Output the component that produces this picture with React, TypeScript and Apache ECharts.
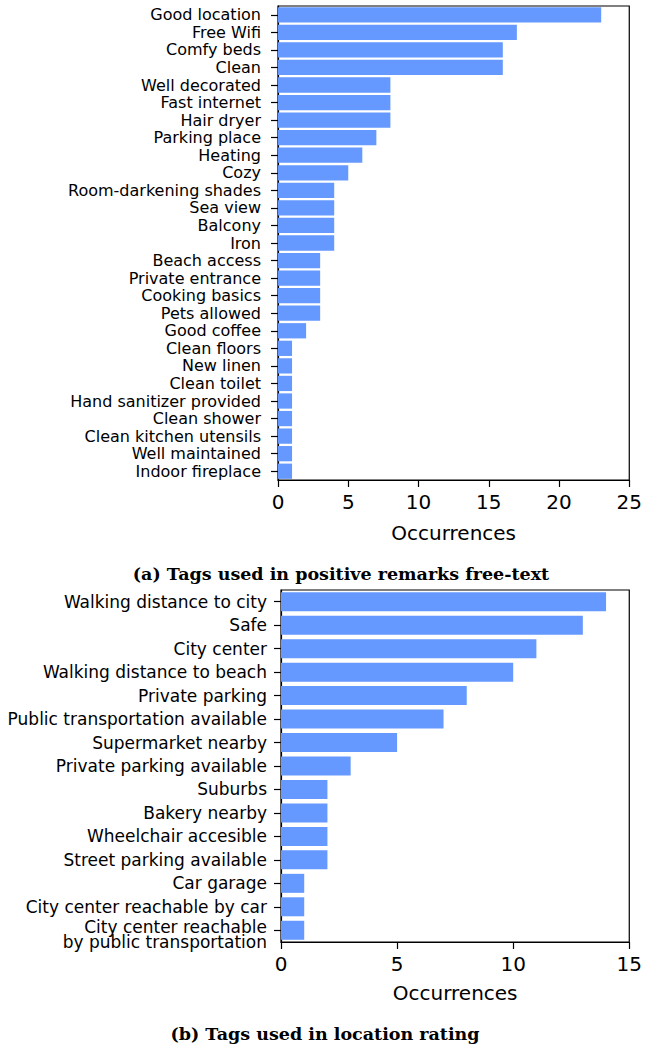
import React, { useEffect, useRef } from "react";
import * as echarts from "echarts";

const tagsA = [
  "Good location", "Free Wifi", "Comfy beds", "Clean", "Well decorated", "Fast internet",
  "Hair dryer", "Parking place", "Heating", "Cozy", "Room-darkening shades", "Sea view",
  "Balcony", "Iron", "Beach access", "Private entrance", "Cooking basics", "Pets allowed",
  "Good coffee", "Clean floors", "New linen", "Clean toilet", "Hand sanitizer provided",
  "Clean shower", "Clean kitchen utensils", "Well maintained", "Indoor fireplace",
];
const valuesA = [23, 17, 16, 16, 8, 8, 8, 7, 6, 5, 4, 4, 4, 4, 3, 3, 3, 3, 2, 1, 1, 1, 1, 1, 1, 1, 1];
const ticksA = [0, 5, 10, 15, 20, 25];

const tagsB = [
  "Walking distance to city", "Safe", "City center", "Walking distance to beach",
  "Private parking", "Public transportation available", "Supermarket nearby",
  "Private parking available", "Suburbs", "Bakery nearby", "Wheelchair accesible",
  "Street parking available", "Car garage", "City center reachable by car",
  "City center reachable\nby public transportation",
];
const valuesB = [14, 13, 11, 10, 8, 7, 5, 3, 2, 2, 2, 2, 1, 1, 1];
const ticksB = [0, 5, 10, 15];

const captionA = "(a) Tags used in positive remarks free-text";
const captionB = "(b) Tags used in location rating";
const xName = "Occurrences";

const FONT = "DejaVu Sans";

export default function App() {
  const ref = useRef<HTMLDivElement>(null);
  useEffect(() => {
    document.body.style.margin = "0";
    const chart = echarts.init(ref.current!, null, { renderer: "svg" });
    const xAxisBase = (max: number, margin: number, nameGap: number) => ({
      type: "value",
      min: 0,
      max,
      interval: 5,
      name: xName,
      nameLocation: "middle",
      nameGap,
      nameTextStyle: { fontFamily: FONT, fontSize: 20, color: "#000" },
      axisLine: { show: true, lineStyle: { color: "#000", width: 1.2 } },
      axisTick: { show: true, length: 7, lineStyle: { color: "#000", width: 1.2 } },
      axisLabel: { fontFamily: FONT, fontSize: 20, color: "#000", margin },
      splitLine: { show: false },
    });
    const yAxisBase = (data: string[], margin: number, size: number) => ({
      type: "category",
      data,
      inverse: true,
      axisLine: { show: true, lineStyle: { color: "#000", width: 1.2 } },
      axisTick: { show: true, length: 7, alignWithLabel: true, lineStyle: { color: "#000", width: 1.2 } },
      axisLabel: {
        fontFamily: FONT, fontSize: size, color: "#000", margin, interval: 0,
        formatter: (v: string) => {
          if (!v.includes("\n")) return v;
          const [a, b] = v.split("\n");
          return `{t|${a}}\n{u|${b}}`;
        },
        rich: {
          t: { fontFamily: FONT, fontSize: size, color: "#000", lineHeight: 23 },
          u: { fontFamily: FONT, fontSize: size, color: "#000", lineHeight: 7 },
        },
      },
    });
    chart.setOption({
      animation: false,
      grid: [
        { left: 278, top: 6, width: 354, height: 474, show: true, borderColor: "#000", borderWidth: 1.2 },
        { left: 281, top: 590, width: 353, height: 352, show: true, borderColor: "#000", borderWidth: 1.2 },
      ],
      xAxis: [
        { ...xAxisBase(ticksA[ticksA.length - 1], 12, 43), gridIndex: 0 },
        { ...xAxisBase(ticksB[ticksB.length - 1], 12, 41), gridIndex: 1 },
      ],
      yAxis: [
        { ...yAxisBase(tagsA, 17, 16), gridIndex: 0 },
        { ...yAxisBase(tagsB, 14, 17), gridIndex: 1 },
      ],
      series: [
        {
          type: "bar", xAxisIndex: 0, yAxisIndex: 0, data: valuesA,
          barCategoryGap: "13%", itemStyle: { color: "#6699ff" },
        },
        {
          type: "bar", xAxisIndex: 1, yAxisIndex: 1, data: valuesB,
          barCategoryGap: "19%", itemStyle: { color: "#6699ff" },
        },
      ],
      graphic: [
        {
          type: "text", x: 341, y: 574,
          style: {
            text: captionA, fontFamily: "DejaVu Serif", fontWeight: "bold", fontSize: 17.5,
            fill: "#000", align: "center", verticalAlign: "middle",
          },
        },
        {
          type: "text", x: 325, y: 1034,
          style: {
            text: captionB, fontFamily: "DejaVu Serif", fontWeight: "bold", fontSize: 17.5,
            fill: "#000", align: "center", verticalAlign: "middle",
          },
        },
      ],
    });
    return () => chart.dispose();
  }, []);
  return <div ref={ref} style={{ width: 645, height: 1048 }} />;
}
